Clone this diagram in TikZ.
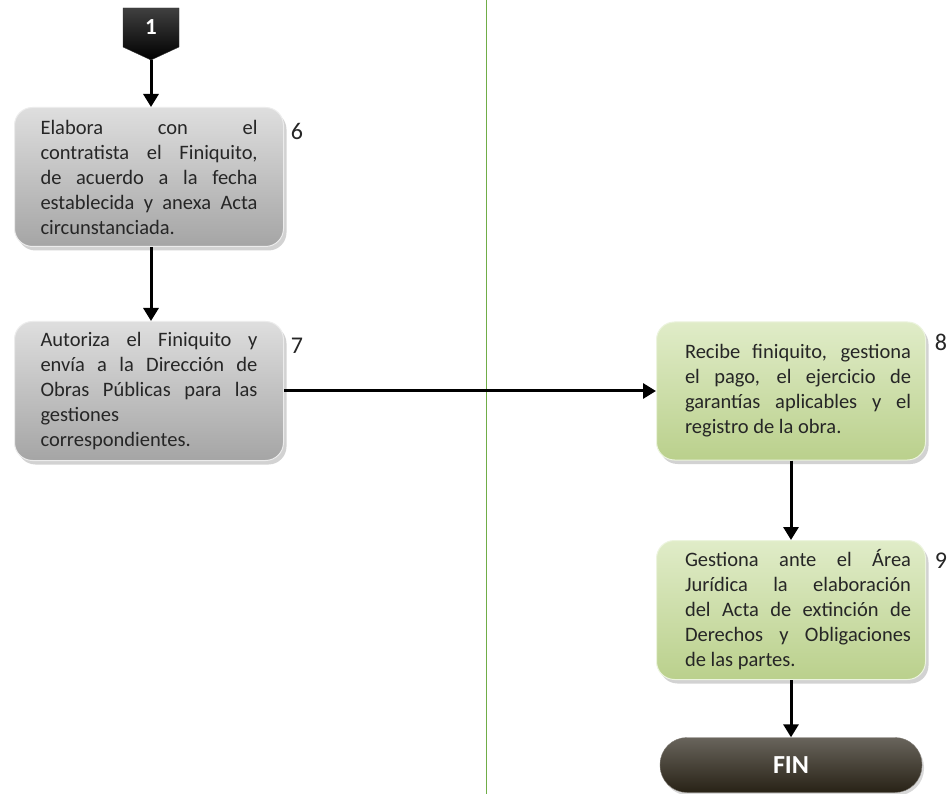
\documentclass[tikz,border=0pt]{standalone}
\usepackage{fontspec}
\setmainfont{Carlito}
\usetikzlibrary{shadows,arrows.meta}
\newcommand{\jl}[1]{\makebox[\dimexpr\hsize-\leftskip\relax][s]{\spaceskip=0pt\xspaceskip=0pt #1}\\}
\definecolor{lanegreen}{RGB}{112,173,71}
\definecolor{grtop}{RGB}{224,236,200}
\definecolor{grbot}{RGB}{186,208,140}
\definecolor{gytop}{RGB}{222,222,222}
\definecolor{gybot}{RGB}{165,165,165}
\definecolor{finc}{RGB}{40,34,22}
\begin{document}
\begin{tikzpicture}[x=1pt,y=-1pt,
  boxbase/.style={rounded corners=18pt, minimum width=269pt, minimum height=139pt,
    text width=217pt, align=justify, inner sep=0pt, line width=1pt,
    font=\fontsize{20.5}{25}\selectfont, text=black!85,
    drop shadow={shadow xshift=3pt, shadow yshift=-4pt, opacity=0.35}},
  graybox/.style={boxbase, top color=gytop, bottom color=gybot, draw=gray!15},
  greenbox/.style={boxbase, text width=240pt, execute at begin node={\leftskip=14pt},
    top color=grtop, bottom color=grbot, draw=grtop!60!white},
  numlbl/.style={font=\fontsize{24}{26}\selectfont, text=black!85},
  flow/.style={line width=3pt, -{Triangle[width=15pt,length=13pt]}},
  endbox/.style={rounded corners=27pt, minimum width=262pt, minimum height=55pt,
    top color=finc!70, bottom color=finc, middle color=finc!85, draw=finc!60,
    text=white, font=\fontsize{26}{28}\selectfont\bfseries,
    drop shadow={shadow xshift=2pt, shadow yshift=-3pt, opacity=0.3}}]
\useasboundingbox (0,0) rectangle (951,794);
\fill[white] (0,0) rectangle (951,794);

% lane divider
\draw[lanegreen, line width=1pt] (486,0) -- (486,794);

% off-page connector
\shade[top color=black!75, bottom color=black, draw=black!80] (123,8) -- (179,8) -- (179,47) -- (151,60) -- (123,47) -- cycle;
\node[text=white, font=\fontsize{23}{25}\selectfont\bfseries] (n1) at (151,27) {1};
\coordinate (c1) at (151,60);

% boxes
\node[graybox] (b6) at (149,177) {\jl{Elabora con el}\jl{contratista el Finiquito,}\jl{de acuerdo a la fecha}\jl{establecida y anexa Acta}circunstanciada.};
\node[numlbl] (l6) at (297,131) {6};

\node[graybox] (b7) at (149,391) {\jl{Autoriza el Finiquito y}\jl{envía a la Dirección de}\jl{Obras Públicas para las}gestiones\\correspondientes.};
\node[numlbl] (l7) at (297,346) {7};

\node[greenbox, minimum height=138pt] (b8) at (791,391) {\jl{Recibe finiquito, gestiona}\jl{el pago, el ejercicio de}\jl{garantías aplicables y el}registro de la obra.};
\node[numlbl] (l8) at (941,342) {8};

\node[greenbox] (b9) at (791,610) {\jl{Gestiona ante el Área}\jl{Jurídica la elaboración}\jl{del Acta de extinción de}\jl{Derechos y Obligaciones}de las partes.};
\node[numlbl] (l9) at (941,561) {9};

\node[endbox] (fin) at (791,765) {FIN};

% connectors
\draw[flow] (c1) -- (b6.north -| c1);
\draw[flow] (b6.south -| c1) -- (b7.north -| c1);
\draw[flow] (b7.east) -- (b8.west);
\draw[flow] (b8.south) -- (b9.north);
\draw[flow] (b9.south) -- (fin.north);
\end{tikzpicture}
\end{document}
